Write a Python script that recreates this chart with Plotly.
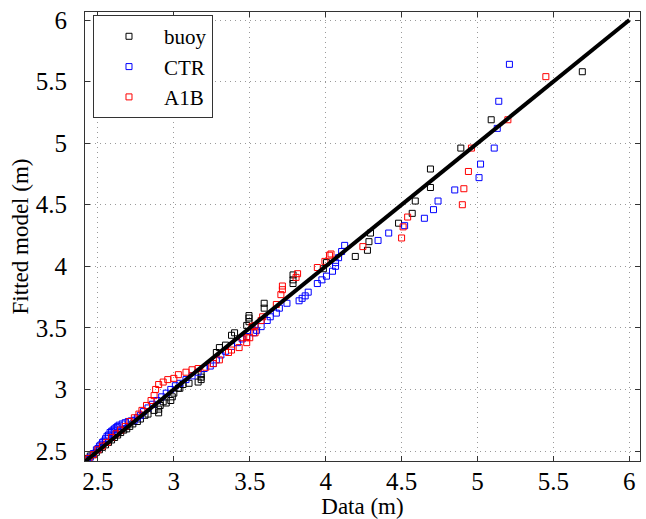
import plotly.graph_objects as go

# ---- data ----
buoy_x = [2.42, 2.43, 2.45, 2.47, 2.49, 2.51, 2.53, 2.55, 2.57, 2.59, 2.61, 2.63, 2.65, 2.67,
          2.69, 2.71, 2.73, 2.76, 2.78, 2.81, 2.83, 2.87, 2.90, 2.90, 2.91, 2.93, 2.95, 2.98,
          2.99, 3.00, 3.03, 3.04, 3.06, 3.10, 3.16, 3.18, 3.18, 3.18, 3.28, 3.30, 3.34, 3.38,
          3.40, 3.48, 3.495, 3.495, 3.495, 3.595, 3.595, 3.785, 3.785, 3.785, 3.985, 4.005,
          4.195, 4.275, 4.285, 4.295, 4.48, 4.57, 4.59, 4.69, 4.69, 4.89, 5.09, 5.69]
buoy_y = [2.42, 2.44, 2.46, 2.47, 2.49, 2.51, 2.53, 2.55, 2.57, 2.59, 2.61, 2.63, 2.65, 2.67,
          2.68, 2.70, 2.72, 2.74, 2.76, 2.79, 2.80, 2.83, 2.81, 2.84, 2.87, 2.90, 2.89, 2.91,
          2.94, 2.97, 3.01, 3.01, 3.04, 3.05, 3.06, 3.08, 3.10, 3.12, 3.30, 3.34, 3.36, 3.44,
          3.46, 3.52, 3.55, 3.58, 3.60, 3.66, 3.70, 3.86, 3.89, 3.93, 3.98, 4.03,
          4.08, 4.13, 4.20, 4.27, 4.35, 4.43, 4.53, 4.64, 4.79, 4.96, 5.19, 5.58]

ctr_x = [2.42, 2.43, 2.45, 2.47, 2.49, 2.50, 2.51, 2.52, 2.53, 2.54, 2.55, 2.56, 2.57, 2.58,
         2.59, 2.60, 2.61, 2.62, 2.63, 2.64, 2.66, 2.68, 2.70, 2.72, 2.74, 2.76, 2.78, 2.80,
         2.83, 2.86, 2.89, 2.92, 2.95, 2.98, 3.01, 3.04, 3.08, 3.12, 3.16, 3.20, 3.24, 3.26,
         3.28, 3.31, 3.34, 3.38, 3.42, 3.45, 3.48, 3.525, 3.545, 3.575, 3.615, 3.635, 3.675,
         3.695, 3.745, 3.825, 3.845, 3.865, 3.885, 3.945, 3.975, 4.005, 4.045, 4.065, 4.065,
         4.085, 4.105, 4.125, 4.345, 4.415, 4.52, 4.65, 4.71, 4.74, 4.85, 5.01, 5.02, 5.11,
         5.13, 5.14, 5.21]
ctr_y = [2.41, 2.43, 2.45, 2.48, 2.51, 2.52, 2.54, 2.55, 2.57, 2.58, 2.60, 2.62, 2.63, 2.65,
         2.66, 2.67, 2.68, 2.69, 2.70, 2.71, 2.72, 2.73, 2.74, 2.745, 2.75, 2.77, 2.79, 2.82,
         2.85, 2.88, 2.91, 2.94, 2.97, 3.00, 3.03, 3.05, 3.08, 3.11, 3.14, 3.17, 3.19, 3.21,
         3.24, 3.28, 3.31, 3.35, 3.38, 3.41, 3.43, 3.46, 3.48, 3.51, 3.56, 3.59, 3.62,
         3.66, 3.70, 3.72, 3.74, 3.76, 3.79, 3.86, 3.89, 3.92, 3.96, 4.00, 4.03,
         4.07, 4.12, 4.17, 4.21, 4.27, 4.33, 4.39, 4.46, 4.53, 4.62, 4.72, 4.83, 4.96,
         5.12, 5.34, 5.64]

a1b_x = [2.44, 2.47, 2.50, 2.53, 2.56, 2.59, 2.62, 2.65, 2.68, 2.71, 2.74, 2.77, 2.79, 2.82,
         2.85, 2.87, 2.88, 2.90, 2.93, 2.96, 3.00, 3.03, 3.08, 3.12, 3.16, 3.21, 3.26, 3.30,
         3.36, 3.38, 3.43, 3.45, 3.48, 3.48, 3.50, 3.515, 3.535, 3.535, 3.575, 3.585, 3.675,
         3.705, 3.715, 3.715, 3.805, 3.815, 3.945, 3.995, 4.025, 4.035, 4.245, 4.50, 4.51,
         4.54, 4.90, 4.91, 4.94, 4.96, 5.20, 5.45]
a1b_y = [2.44, 2.47, 2.51, 2.54, 2.57, 2.61, 2.64, 2.67, 2.70, 2.74, 2.77, 2.80, 2.83, 2.87,
         2.91, 2.95, 3.00, 3.04, 3.06, 3.08, 3.09, 3.12, 3.14, 3.16, 3.17, 3.18, 3.21, 3.24,
         3.30, 3.32, 3.34, 3.42, 3.38, 3.42, 3.42, 3.51, 3.46, 3.52, 3.56, 3.59, 3.69,
         3.77, 3.81, 3.84, 3.91, 3.94, 3.99, 4.04, 4.09, 4.10, 4.16, 4.23, 4.32,
         4.40, 4.50, 4.63, 4.77, 4.96, 5.19, 5.54]

line_x = [2.40, 6.00]
line_y = [2.40, 6.00]

tick_vals = [2.5, 3.0, 3.5, 4.0, 4.5, 5.0, 5.5, 6.0]
tick_text = ["2.5", "3", "3.5", "4", "4.5", "5", "5.5", "6"]

FONT = "Liberation Serif, Times New Roman, serif"

fig = go.Figure()
marker_style = dict(symbol="square-open", size=6, line=dict(width=1))
fig.add_trace(go.Scatter(x=buoy_x, y=buoy_y, mode="markers", name="buoy",
                         marker=dict(color="#000000", **marker_style)))
fig.add_trace(go.Scatter(x=ctr_x, y=ctr_y, mode="markers", name="CTR",
                         marker=dict(color="#0000ff", **marker_style)))
fig.add_trace(go.Scatter(x=a1b_x, y=a1b_y, mode="markers", name="A1B",
                         marker=dict(color="#ff0000", **marker_style)))
fig.add_trace(go.Scatter(x=line_x, y=line_y, mode="lines", showlegend=False,
                         line=dict(color="black", width=4)))

axis_common = dict(
    tickvals=tick_vals, ticktext=tick_text, automargin=False,
    showline=True, linecolor="#333333", linewidth=1, mirror="ticks",
    ticks="inside", ticklen=5, tickcolor="#333333",
    showgrid=True, gridcolor="#9a9a9a", griddash="1px,4px", gridwidth=1,
    zeroline=False,
    tickfont=dict(family=FONT, size=25, color="#000000"),
)

fig.update_layout(
    template="none",
    width=646, height=519,
    margin=dict(l=85, r=6, t=12, b=58),
    paper_bgcolor="white", plot_bgcolor="white",
    font=dict(family=FONT, size=25, color="black"),
    xaxis=dict(range=[2.415, 6.07],
               title=dict(text="Data (m)", standoff=5,
                          font=dict(family=FONT, size=23, color="#000000")),
               ticklabelstandoff=-2, **axis_common),
    yaxis=dict(range=[2.419, 6.065],
               title=dict(text="Fitted model (m)", standoff=0,
                          font=dict(family=FONT, size=23, color="#000000")),
               ticklabelstandoff=12, **axis_common),
    showlegend=True,
    legend=dict(x=0.0144, y=0.993, xanchor="left", yanchor="top",
                bgcolor="white", bordercolor="#333333", borderwidth=1,
                font=dict(family=FONT, size=21, color="black"),
                itemsizing="trace", itemwidth=60, tracegroupgap=0),
)

fig.write_html("out.html", config={"displayModeBar": False},
               post_script="document.body.style.margin='0';document.body.style.padding='0';")
